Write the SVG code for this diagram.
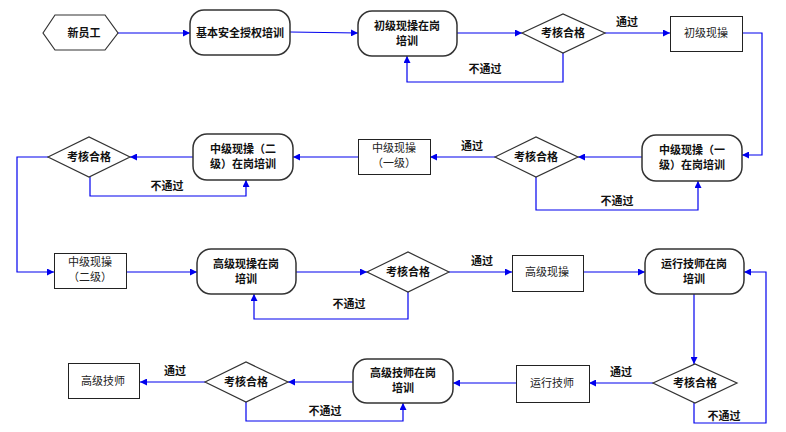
<svg xmlns="http://www.w3.org/2000/svg" width="786" height="432" viewBox="0 0 786 432">
<defs>
<marker id="ah" viewBox="0 0 10 10" refX="10" refY="5" markerWidth="7" markerHeight="7" orient="auto" markerUnits="userSpaceOnUse">
<path d="M0,0 L10,5 L0,10 Z" fill="#0000ee"/>
</marker>
<style>
.rr{fill:#fff;stroke:#333;stroke-width:1.5}
.bx{fill:#fff;stroke:#222;stroke-width:1}
.dm{fill:#fff;stroke:#333;stroke-width:1.2}
.t{font-family:"Noto Sans CJK SC","Liberation Sans",sans-serif;font-size:11px;fill:#111;text-anchor:middle}
.b{font-weight:bold}
.n{fill:#222}
.ca{fill:none;stroke:#0000ee;stroke-width:1.2;marker-end:url(#ah)}
.lb{font-family:"Noto Sans CJK SC","Liberation Sans",sans-serif;font-size:11px;fill:#111;text-anchor:middle;font-weight:bold}
</style>
</defs>
<rect width="786" height="432" fill="#fff"/>
<g id="connectors">
<path class="ca" d="M118,33 L190,33"/>
<path class="ca" d="M290,32 L358,33"/>
<path class="ca" d="M457,33 L522,33"/>
<path class="ca" d="M563,53 L563,82 L407,82 L407,56"/>
<path class="ca" d="M605,33 L670,33"/>
<path class="ca" d="M742,33 L762,33 L762,155 L742,155"/>
<path class="ca" d="M642,157 L578,157"/>
<path class="ca" d="M536,177 L536,210 L698,210 L698,181"/>
<path class="ca" d="M495,157 L430,157"/>
<path class="ca" d="M358,157 L293,157"/>
<path class="ca" d="M193,157 L130,157"/>
<path class="ca" d="M90,177 L90,196 L246,196 L246,180"/>
<path class="ca" d="M48,157 L17,157 L17,272 L54,272"/>
<path class="ca" d="M126,272 L197,272"/>
<path class="ca" d="M296,272 L367,272"/>
<path class="ca" d="M408,292 L408,319 L254,319 L254,294"/>
<path class="ca" d="M449,272 L512,272"/>
<path class="ca" d="M583,272 L645,272"/>
<path class="ca" d="M694,294 L694,364"/>
<path class="ca" d="M694,403 L694,423 L766,423 L766,272 L744,272"/>
<path class="ca" d="M653,383 L589,383"/>
<path class="ca" d="M516,383 L453,383"/>
<path class="ca" d="M353,382 L288,382"/>
<path class="ca" d="M246,402 L246,421 L403,421 L403,403"/>
<path class="ca" d="M205,382 L140,382"/>
<text class="lb" x="627" y="26">通过</text>
<text class="lb" x="485" y="73">不通过</text>
<text class="lb" x="472" y="150">通过</text>
<text class="lb" x="617" y="205">不通过</text>
<text class="lb" x="167" y="190">不通过</text>
<text class="lb" x="482" y="265">通过</text>
<text class="lb" x="349" y="308">不通过</text>
<text class="lb" x="621" y="376">通过</text>
<text class="lb" x="724" y="420">不通过</text>
<text class="lb" x="325" y="415">不通过</text>
<text class="lb" x="175" y="375">通过</text>
</g>
<g id="n1"><polygon class="dm" points="43,33 55,15 105,15 118,33 105,50 55,50"/><text class="t b" x="84" y="37">新员工</text></g>
<g id="n2"><rect class="rr" x="190" y="10" width="100" height="45" rx="14"/><text class="t b" x="240" y="37">基本安全授权培训</text></g>
<g id="n3"><rect class="rr" x="358" y="11" width="99" height="45" rx="14"/><text class="t b" x="407" y="30">初级现操在岗</text><text class="t b" x="407" y="45">培训</text></g>
<g id="n4"><polygon class="dm" points="522,33 563,14 605,33 563,53"/><text class="t b" x="563" y="37">考核合格</text></g>
<g id="n5"><rect class="bx" x="670.5" y="16.5" width="72" height="35"/><text class="t n" x="706" y="37">初级现操</text></g>
<g id="n6"><rect class="rr" x="642" y="135" width="100" height="46" rx="14"/><text class="t b" x="692" y="154">中级现操（一</text><text class="t b" x="692" y="169">级）在岗培训</text></g>
<g id="n7"><polygon class="dm" points="495,157 536,137 578,157 536,177"/><text class="t b" x="536" y="161">考核合格</text></g>
<g id="n8"><rect class="bx" x="358.5" y="139.5" width="72" height="35"/><text class="t n" x="394" y="152">中级现操</text><text class="t n" x="394" y="167">（一级）</text></g>
<g id="n9"><rect class="rr" x="193" y="134" width="100" height="46" rx="14"/><text class="t b" x="243" y="153">中级现操（二</text><text class="t b" x="243" y="168">级）在岗培训</text></g>
<g id="n10"><polygon class="dm" points="48,157 89,137 130,157 89,177"/><text class="t b" x="89" y="161">考核合格</text></g>
<g id="n11"><rect class="bx" x="54.5" y="253.5" width="72" height="35"/><text class="t n" x="90" y="266">中级现操</text><text class="t n" x="90" y="281">（二级）</text></g>
<g id="n12"><rect class="rr" x="197" y="249" width="99" height="45" rx="14"/><text class="t b" x="246" y="268">高级现操在岗</text><text class="t b" x="246" y="283">培训</text></g>
<g id="n13"><polygon class="dm" points="367,272 408,252 449,272 408,292"/><text class="t b" x="408" y="276">考核合格</text></g>
<g id="n14"><rect class="bx" x="512.5" y="255.5" width="71" height="36"/><text class="t n" x="547" y="276">高级现操</text></g>
<g id="n15"><rect class="rr" x="645" y="249" width="99" height="45" rx="14"/><text class="t b" x="694" y="268">运行技师在岗</text><text class="t b" x="694" y="283">培训</text></g>
<g id="n16"><polygon class="dm" points="653,383 695,364 737,383 695,403"/><text class="t b" x="695" y="387">考核合格</text></g>
<g id="n17"><rect class="bx" x="516.5" y="365.5" width="73" height="37"/><text class="t n" x="552" y="387">运行技师</text></g>
<g id="n18"><rect class="rr" x="353" y="359" width="100" height="44" rx="14"/><text class="t b" x="403" y="377">高级技师在岗</text><text class="t b" x="403" y="392">培训</text></g>
<g id="n19"><polygon class="dm" points="205,382 246,362 288,382 246,402"/><text class="t b" x="246" y="386">考核合格</text></g>
<g id="n20"><rect class="bx" x="68.5" y="363.5" width="71" height="35"/><text class="t n" x="103" y="385">高级技师</text></g>
</svg>
